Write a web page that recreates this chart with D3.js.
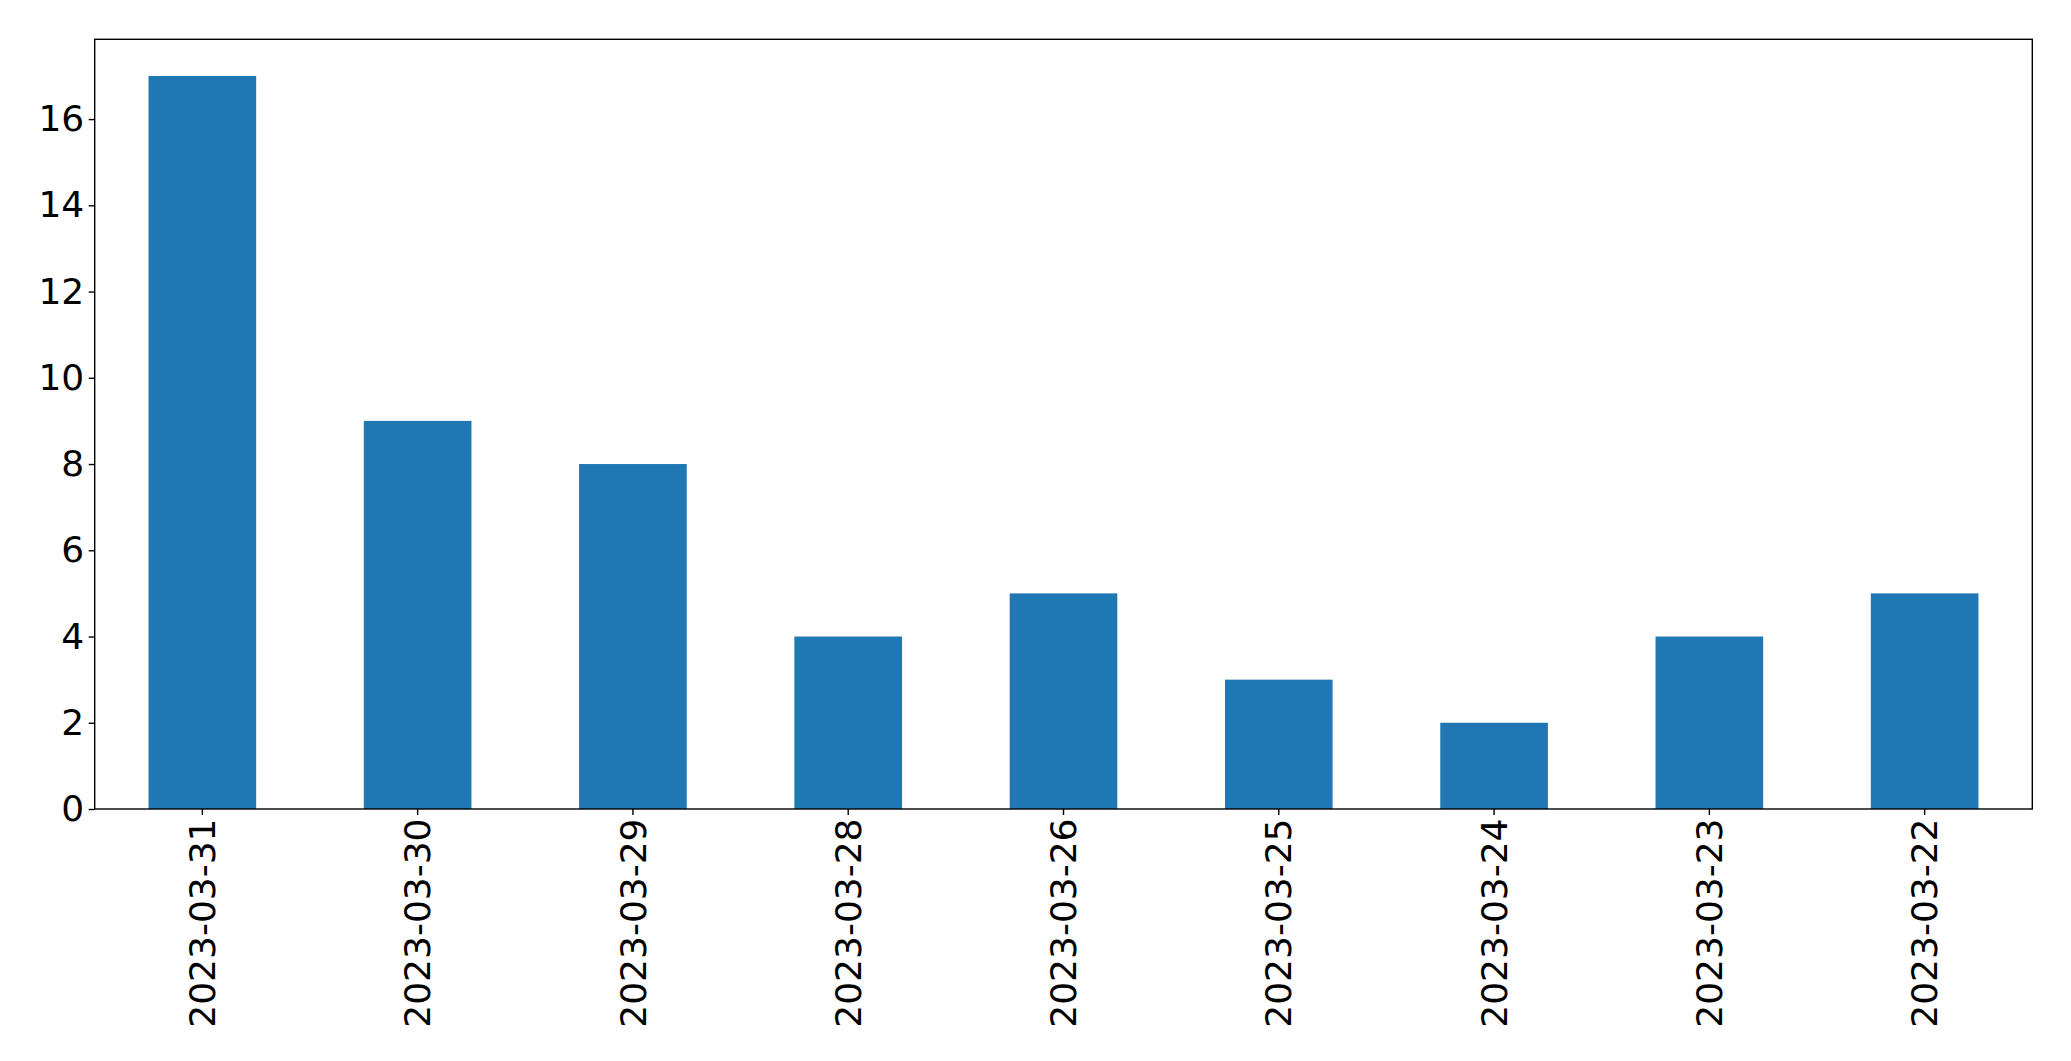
<!DOCTYPE html>
<html><head><meta charset="utf-8">
<script src="https://cdn.jsdelivr.net/npm/d3@7"></script>
<style>
html,body{margin:0;padding:0;background:#fff;overflow:hidden;}
svg{display:block;}
</style></head>
<body>
<svg id="chart" width="2071" height="1061"></svg>
<script>
const categories = ["2023-03-31","2023-03-30","2023-03-29","2023-03-28","2023-03-26","2023-03-25","2023-03-24","2023-03-23","2023-03-22"];
const values = [17, 9, 8, 4, 5, 3, 2, 4, 5];
const yTicks = [0, 2, 4, 6, 8, 10, 12, 14, 16];

const W = 2071, H = 1061;
const m = {left: 94.7, right: 2071 - 2032.3, top: 39.3, bottom: 1061 - 809};
const svg = d3.select("#chart");
const iw = W - m.left - m.right, ih = H - m.top - m.bottom;
const g = svg.append("g").attr("transform", `translate(${m.left},${m.top})`);

const x = d3.scaleBand().domain(categories).range([0, iw]).paddingInner(0.5).paddingOuter(0.25);
const y = d3.scaleLinear().domain([0, d3.max(values) * 1.05]).range([ih, 0]);

g.selectAll("rect.bar").data(values).enter().append("rect")
  .attr("class", "bar")
  .attr("x", (d, i) => x(categories[i]))
  .attr("width", x.bandwidth())
  .attr("y", d => y(d))
  .attr("height", d => ih - y(d))
  .attr("fill", "#1f77b4");

const font = "'DejaVu Sans', sans-serif";
const tickLen = 6;

const yAxis = g.append("g").call(d3.axisLeft(y).tickValues(yTicks).tickSize(tickLen).tickPadding(4.5).tickFormat(d3.format("d")));
yAxis.select(".domain").remove();
yAxis.selectAll("line").attr("stroke", "#000").attr("stroke-width", 1.4);
yAxis.selectAll("text").attr("font-family", font).attr("font-size", 36).attr("fill", "#000");

const xAxis = g.append("g").attr("transform", `translate(0,${ih})`)
  .call(d3.axisBottom(x).tickSize(tickLen).tickPadding(0));
xAxis.select(".domain").remove();
xAxis.selectAll("line").attr("stroke", "#000").attr("stroke-width", 1.4);
xAxis.selectAll("text")
  .attr("font-family", font).attr("font-size", 36).attr("fill", "#000")
  .attr("transform", `translate(0,${tickLen + 3.5}) rotate(-90)`)
  .attr("x", 0).attr("y", 0).attr("dy", "0.35em")
  .attr("text-anchor", "end");

g.append("rect").attr("x", 0).attr("y", 0).attr("width", iw).attr("height", ih)
  .attr("fill", "none").attr("stroke", "#000").attr("stroke-width", 1.4);
</script>
</body></html>
